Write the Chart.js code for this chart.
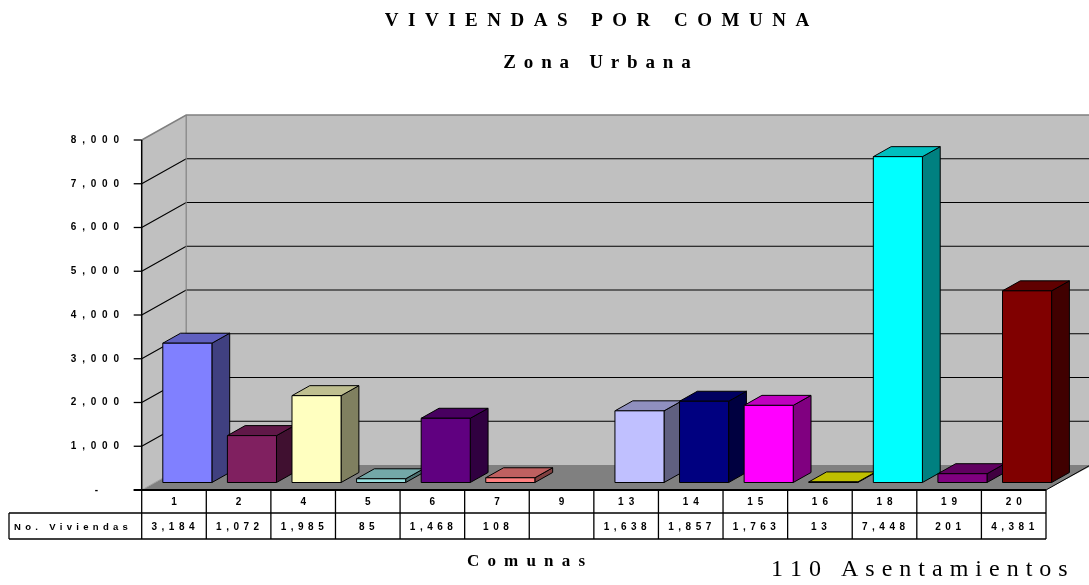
<!DOCTYPE html>
<html>
<head>
<meta charset="utf-8">
<script src="https://cdn.jsdelivr.net/npm/chart.js@4/dist/chart.umd.min.js"></script>
<style>
  html, body { margin: 0; padding: 0; background: #fff; }
  canvas { display: block; }
</style>
</head>
<body>
<canvas id="Chart" width="1089" height="585"></canvas>
<script>
// viviendas por comuna, zona urbana
const comunas = ['1', '2', '4', '5', '6', '7', '9', '13', '14', '15', '16', '18', '19', '20'];
const viviendas = [3184, 1072, 1985, 85, 1468, 108, null, 1638, 1857, 1763, 13, 7448, 201, 4381];
const barColors = ['#8080FF', '#802060', '#FFFFC0', '#99E0E0', '#600080', '#FF8080', '#0066CC',
  '#C0C0FF', '#000080', '#FF00FF', '#FFFF00', '#00FFFF', '#800080', '#800000'];
const yTicks = [0, 1000, 2000, 3000, 4000, 5000, 6000, 7000, 8000];

const DX = 44.5, DY = -25;      // depth of the 3d box
const F0 = 0.3, F1 = 0.7;       // bars sit in the middle of the depth

function shade(hex, k) {
  const n = parseInt(hex.slice(1), 16);
  const r = Math.round(((n >> 16) & 255) * k);
  const g = Math.round(((n >> 8) & 255) * k);
  const b = Math.round((n & 255) * k);
  return `rgb(${r},${g},${b})`;
}

// text with extra letter spacing, measured char by char
function spaced(ctx, text, x, y, sp, align) {
  const chars = [...text];
  const ws = chars.map(c => ctx.measureText(c).width);
  const total = ws.reduce((s, w) => s + w, 0) + sp * (chars.length - 1);
  let cx = align === 'center' ? x - total / 2 : align === 'right' ? x - total : x;
  ctx.textAlign = 'left';
  chars.forEach((c, i) => { ctx.fillText(c, cx, y); cx += ws[i] + sp; });
}

function poly(ctx, pts, fill, stroke, lw) {
  ctx.beginPath();
  ctx.moveTo(pts[0][0], pts[0][1]);
  for (let i = 1; i < pts.length; i++) ctx.lineTo(pts[i][0], pts[i][1]);
  ctx.closePath();
  if (fill) { ctx.fillStyle = fill; ctx.fill(); }
  if (stroke) { ctx.strokeStyle = stroke; ctx.lineWidth = lw || 1; ctx.stroke(); }
}

function line(ctx, x1, y1, x2, y2, color, lw) {
  ctx.beginPath();
  ctx.moveTo(x1, y1);
  ctx.lineTo(x2, y2);
  ctx.strokeStyle = color;
  ctx.lineWidth = lw || 1;
  ctx.stroke();
}

const box3d = {
  id: 'box3d',
  beforeDatasetsDraw(chart) {
    const { ctx, chartArea: a, scales: { y } } = chart;
    const W = chart.width + 5;
    ctx.save();
    // back wall
    poly(ctx, [[a.left + DX, a.top + DY], [W, a.top + DY], [W, a.bottom + DY], [a.left + DX, a.bottom + DY]], '#C0C0C0');
    // side wall
    poly(ctx, [[a.left, a.top], [a.left + DX, a.top + DY], [a.left + DX, a.bottom + DY], [a.left, a.bottom]], '#C0C0C0');
    // floor
    poly(ctx, [[a.left, a.bottom], [a.left + DX, a.bottom + DY], [W, a.bottom + DY], [a.right + DX + 2, a.bottom + DY], [a.right, a.bottom]], '#808080');
    line(ctx, a.right, a.bottom, a.right + DX, a.bottom + DY, '#000', 1);
    line(ctx, a.left, a.bottom, a.left + DX, a.bottom + DY, '#A0A0A0', 1);

    // gridlines
    yTicks.forEach(v => {
      if (v === 0) return;
      const py = y.getPixelForValue(v);
      const c = v === yTicks[yTicks.length - 1] ? '#808080' : '#000';
      const lw = v === yTicks[yTicks.length - 1] ? 1.5 : 1.2;
      ctx.beginPath();
      ctx.moveTo(a.left, py);
      ctx.lineTo(a.left + DX, py + DY);
      ctx.lineTo(W, py + DY);
      ctx.strokeStyle = c;
      ctx.lineWidth = lw;
      ctx.stroke();
    });
    line(ctx, a.left + DX, a.top + DY, a.left + DX, a.bottom + DY, '#808080', 1.2);

    // value axis, tick marks and labels
    line(ctx, a.left, a.top, a.left, a.bottom, '#000', 1.5);
    ctx.font = 'bold 10px "Liberation Sans", Arial, sans-serif';
    ctx.fillStyle = '#000';
    ctx.textBaseline = 'middle';
    yTicks.forEach(v => {
      const py = y.getPixelForValue(v);
      line(ctx, a.left - 8, py, a.left, py, '#000', 1.3);
      if (v === 0) spaced(ctx, '-', 98, py, 0, 'right');
      else spaced(ctx, v.toLocaleString('en-US'), 119, py, 5.8, 'right');
    });
    ctx.restore();
  },
  afterDatasetsDraw(chart) {
    const { ctx } = chart;
    const meta = chart.getDatasetMeta(0);
    ctx.save();
    ctx.lineJoin = 'round';
    meta.data.forEach((el, i) => {
      if (viviendas[i] == null) return;
      const w = el.width;
      const x0 = el.x - w / 2 + F0 * DX;
      const base = el.base + F0 * DY;
      const top = el.y + F0 * DY;
      const bx = (F1 - F0) * DX, by = (F1 - F0) * DY;
      const col = barColors[i];
      // side, top, front
      poly(ctx, [[x0 + w, top], [x0 + w + bx, top + by], [x0 + w + bx, base + by], [x0 + w, base]], shade(col, 0.5), '#000', 1);
      poly(ctx, [[x0, top], [x0 + bx, top + by], [x0 + w + bx, top + by], [x0 + w, top]], shade(col, 0.75), '#000', 1);
      poly(ctx, [[x0, top], [x0 + w, top], [x0 + w, base], [x0, base]], col, '#000', 1);
    });
    ctx.restore();
  },
  afterDraw(chart) {
    const { ctx, chartArea: a, scales: { x } } = chart;
    ctx.save();
    ctx.fillStyle = '#000';
    ctx.textBaseline = 'alphabetic';

    // titles
    ctx.font = 'bold 19px "Liberation Serif", "Times New Roman", serif';
    spaced(ctx, 'VIVIENDAS POR COMUNA', 597, 26, 9.5, 'center');
    spaced(ctx, 'Zona Urbana', 597, 68, 7.8, 'center');

    // data table
    const r0 = a.bottom, r1 = 513, r2 = 539, left = 9;
    const colW = (a.right - a.left) / comunas.length;
    line(ctx, a.left - 8, r0, a.right, r0, '#000', 2);
    line(ctx, left, r1, a.right, r1, '#000', 1.3);
    line(ctx, left, r2, a.right, r2, '#000', 1.3);
    line(ctx, left, r1, left, r2, '#000', 1.3);
    line(ctx, a.left, r0, a.left, r2, '#000', 1.3);
    for (let i = 1; i <= comunas.length; i++) {
      const cx = a.left + i * colW;
      line(ctx, cx, r0, cx, r2, '#000', 1.3);
    }
    ctx.font = 'bold 10px "Liberation Sans", Arial, sans-serif';
    ctx.textBaseline = 'middle';
    comunas.forEach((c, i) => {
      const cx = x.getPixelForValue(i);
      spaced(ctx, c, cx, (r0 + r1) / 2 + 1, 5, 'center');
      const v = viviendas[i];
      if (v != null) spaced(ctx, v.toLocaleString('en-US'), cx - 1, (r1 + r2) / 2 + 1, 4.5, 'center');
    });
    ctx.font = 'bold 9.5px "Liberation Sans", Arial, sans-serif';
    spaced(ctx, 'No. Viviendas', 14, (r1 + r2) / 2 + 1, 4.3, 'left');

    // axis title and note
    ctx.textBaseline = 'alphabetic';
    ctx.font = 'bold 17px "Liberation Serif", "Times New Roman", serif';
    spaced(ctx, 'Comunas', 526, 566, 8.2, 'center');
    ctx.font = '24px "Liberation Serif", "Times New Roman", serif';
    spaced(ctx, '110 Asentamientos', 771, 576, 7, 'left');
    ctx.restore();
  }
};

const ctx = document.getElementById('Chart').getContext('2d');
const myChart = new Chart(ctx, {
  type: 'bar',
  data: {
    labels: comunas,
    datasets: [{
      label: 'No. Viviendas',
      data: viviendas,
      backgroundColor: 'rgba(0,0,0,0)',
      borderWidth: 0,
      barPercentage: 0.76,
      categoryPercentage: 1
    }]
  },
  options: {
    responsive: false,
    animation: false,
    layout: { padding: { left: 141.7, right: 1089 - 1046, top: 140, bottom: 585 - 490 } },
    scales: {
      x: { display: false },
      y: { display: false, min: 0, max: 8000, ticks: { stepSize: 1000 } }
    },
    plugins: {
      legend: { display: false },
      tooltip: { enabled: false }
    }
  },
  plugins: [box3d]
});
</script>
</body>
</html>
